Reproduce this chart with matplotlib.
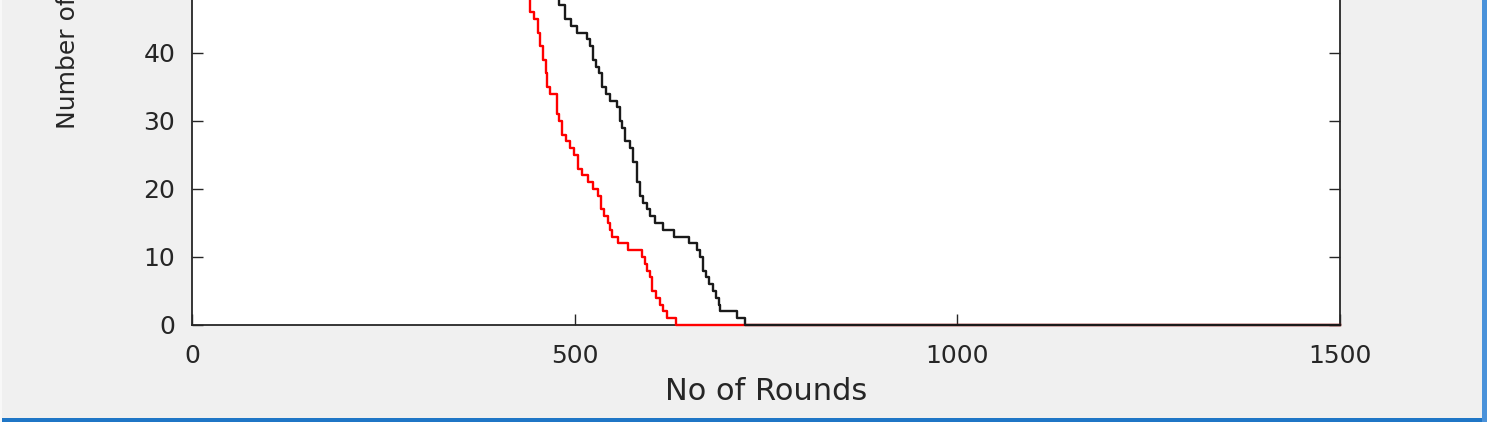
import matplotlib
matplotlib.use('Agg')
import matplotlib.pyplot as plt
from matplotlib.patches import Rectangle

# alive nodes per round (stair steps)
red_rounds = [0, 405, 420, 432, 438, 442, 447, 452, 455, 459, 462, 464, 468, 477, 479, 483, 489,
              494, 499, 504, 510, 517, 524, 530, 534, 538, 543, 546, 549, 556, 570, 588, 592,
              595, 598, 601, 606, 611, 615, 620, 632, 1500]
red_alive = [100, 60, 53, 50, 48, 46, 45, 43, 41, 39, 37, 35, 34, 31, 30, 28, 27,
             26, 25, 23, 22, 21, 20, 19, 17, 16, 15, 14, 13, 12, 11, 10, 9,
             8, 7, 5, 4, 3, 2, 1, 0, 0]

black_rounds = [0, 440, 460, 474, 480, 487, 495, 503, 516, 520, 524, 528, 532, 536, 541, 546,
                555, 559, 562, 566, 572, 576, 581, 585, 589, 594, 598, 605, 615, 630, 650,
                660, 664, 668, 672, 676, 681, 685, 688, 690, 712, 722, 1500]
black_alive = [100, 62, 55, 48, 47, 45, 44, 43, 42, 41, 39, 38, 37, 35, 34, 33,
               32, 30, 29, 27, 26, 24, 21, 19, 18, 17, 16, 15, 14, 13, 12,
               11, 10, 8, 7, 6, 5, 4, 3, 2, 1, 0, 0]

x_ticks = [0, 500, 1000, 1500]
y_ticks = [0, 10, 20, 30, 40, 50, 60, 70, 80, 90, 100]

plt.rcParams['font.family'] = ['DejaVu Sans']
grey = '#262626'

fig = plt.figure(figsize=(14.9, 4.22), dpi=100, facecolor='#f0f0f0')
# axes runs past the top edge: the reference is a crop of a taller figure
ax = fig.add_axes([192/1490, 97/422, 1148/1490, 680/422])
ax.set_facecolor('white')

ax.plot(red_rounds, red_alive, color='#ff0000', lw=1.7, drawstyle='steps-post',
        zorder=3, clip_on=False)
ax.plot(black_rounds, black_alive, color='#1a1a1a', lw=1.7, drawstyle='steps-post',
        zorder=3, clip_on=False)

ax.set_xlim(0, 1500)
ax.set_ylim(0, 100)
ax.set_xticks(x_ticks)
ax.set_yticks(y_ticks)
ax.tick_params(direction='in', length=8, width=1.0, colors=grey, labelsize=18,
               top=True, right=True)
ax.tick_params(axis='x', pad=14)
ax.tick_params(axis='y', pad=12)
for s in ax.spines.values():
    s.set_color(grey)
    s.set_linewidth(1.3)

ax.set_xlabel('No of Rounds', fontsize=22, color=grey, labelpad=6)
ax.set_ylabel('Number of Alive Nodes', fontsize=18, color=grey)
ax.yaxis.set_label_coords(-112/1148, 0.5)

# window frame bits visible in the screenshot
fig.add_artist(Rectangle((0, 0), 1, 4/422, transform=fig.transFigure,
                         facecolor='#1f76c6', edgecolor='none'))
fig.add_artist(Rectangle((1482/1490, 0), 5/1490, 1, transform=fig.transFigure,
                         facecolor='#4a92da', edgecolor='none'))
fig.add_artist(Rectangle((1487/1490, 0), 3/1490, 1, transform=fig.transFigure,
                         facecolor='white', edgecolor='none'))
fig.add_artist(Rectangle((0, 0), 2/1490, 1, transform=fig.transFigure,
                         facecolor='#f8f8f8', edgecolor='none'))

fig.savefig('out.png', dpi=100, facecolor=fig.get_facecolor())
